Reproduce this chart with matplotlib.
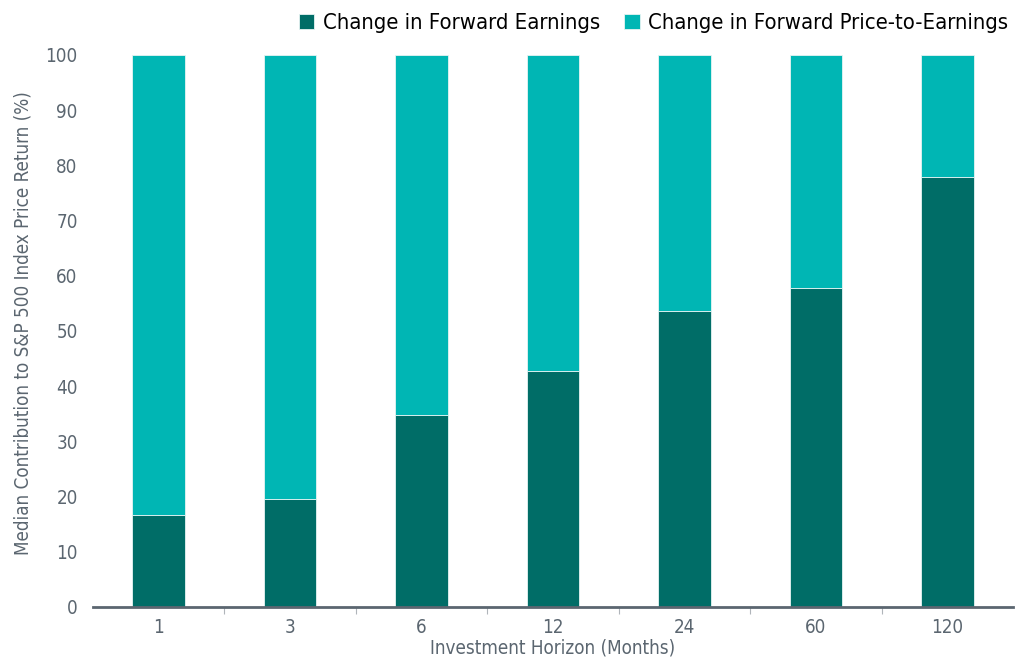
import matplotlib
matplotlib.use("Agg")
import matplotlib.pyplot as plt
import numpy as np

plt.rcParams["font.family"] = ["DejaVu Sans"]
plt.rcParams["font.stretch"] = "condensed"

horizons = ["1", "3", "6", "12", "24", "60", "120"]
earnings = [16.7, 19.6, 34.8, 42.8, 53.6, 57.8, 77.9]
pe = [100 - e for e in earnings]

DARK = "#006d67"
LIGHT = "#00b6b4"
GREY = "#5b6670"

fig = plt.figure(figsize=(10.15, 6.61), dpi=100)
ax = fig.add_axes([0.0916, 0.0817, 0.9064, 0.8351])

x = np.arange(len(horizons))
ax.bar(x, earnings, width=0.4, color=DARK, edgecolor="#e6f4f3", linewidth=0.6,
       label="Change in Forward Earnings")
ax.bar(x, pe, width=0.4, bottom=earnings, color=LIGHT, edgecolor="#e6f4f3",
       linewidth=0.6, label="Change in Forward Price-to-Earnings")

ax.set_xlim(-0.5, len(horizons) - 0.5)
ax.set_ylim(0, 100)
ax.set_yticks(range(0, 101, 10))
ax.tick_params(axis="y", length=0, labelsize=13.5, labelcolor=GREY, pad=11)
ax.set_xticks(x)
ax.set_xticklabels(horizons)
ax.set_xticks(np.arange(0.5, len(horizons) - 1, 1), minor=True)
ax.tick_params(axis="x", which="major", length=0, labelsize=13.5,
               labelcolor=GREY, pad=8)
ax.tick_params(axis="x", which="minor", length=5, color="#b0b5ba", width=0.8)

for side in ["top", "right", "left"]:
    ax.spines[side].set_visible(False)
ax.spines["bottom"].set_color(GREY)
ax.spines["bottom"].set_linewidth(2)

ax.set_xlabel("Investment Horizon (Months)", fontsize=13.5, color=GREY, labelpad=1)
ax.set_ylabel("Median Contribution to S&P 500 Index Price Return (%)",
              fontsize=13.5, color=GREY, labelpad=8)
ax.yaxis.set_label_coords(-0.066, 0.515)

handles, labels = ax.get_legend_handles_labels()
fig.legend(handles, labels, loc="upper right", bbox_to_anchor=(1.0, 0.99),
           ncol=2, frameon=False, fontsize=15.8, handlelength=0.7,
           handleheight=0.7, handletextpad=0.4, columnspacing=1.1,
           borderaxespad=0.0, borderpad=0.3)

fig.savefig("out.png", dpi=100)
